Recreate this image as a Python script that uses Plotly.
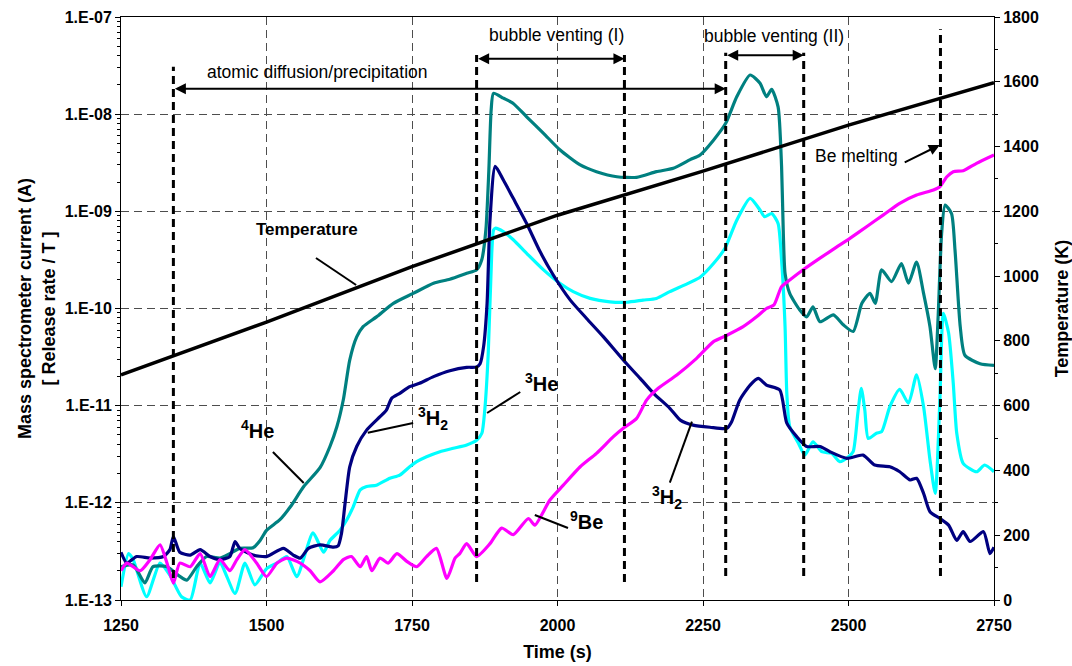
import plotly.graph_objects as go

# ---- release curves (time in s, signal in A) ----
t_he4 = [1250, 1271, 1291, 1305, 1329, 1351, 1363, 1380, 1397, 1420, 1437, 1454, 1477, 1489,
         1500, 1523, 1541, 1564, 1592, 1609, 1621, 1632, 1643, 1655, 1666, 1689, 1718, 1752,
         1787, 1815, 1844, 1861, 1870, 1877, 1882, 1886, 1890, 1907, 1924, 1947, 1976, 2004,
         2039, 2067, 2102, 2136, 2170, 2199, 2228, 2245, 2268, 2289, 2308, 2331, 2348, 2359,
         2368, 2379, 2385, 2388, 2391, 2399, 2416, 2428, 2439, 2451, 2474, 2491, 2508, 2523,
         2537, 2546, 2557, 2574, 2591, 2603, 2617, 2629, 2640, 2649, 2654, 2660, 2666, 2677,
         2683, 2692, 2700, 2726, 2750]
he4 = [2.2e-13, 2.3e-13, 1.5e-13, 2.2e-13, 2.2e-13, 1.75e-13, 1.6e-13, 2.2e-13, 2.8e-13, 2.7e-13,
       3.0e-13, 3.4e-13, 3.45e-13, 4.1e-13, 5.2e-13, 6.7e-13, 9.1e-13, 1.47e-12, 2.3e-12, 3.8e-12,
       6.1e-12, 1.15e-11, 2.95e-11, 5.1e-11, 6.5e-11, 8.2e-11, 1.13e-10, 1.43e-10, 1.82e-10, 2.0e-10,
       2.3e-10, 2.5e-10, 3.2e-10, 6.5e-10, 2.6e-9, 1.1e-8, 1.64e-8, 1.46e-8, 1.29e-8, 9.4e-9,
       6.35e-9, 4.3e-9, 3.0e-9, 2.56e-9, 2.27e-9, 2.24e-9, 2.56e-9, 2.77e-9, 3.4e-9, 3.8e-9,
       5.4e-9, 8.05e-9, 1.51e-8, 2.53e-8, 2.08e-8, 1.51e-8, 1.8e-8, 1.19e-8, 2.9e-9, 5.9e-10,
       2.3e-10, 1.43e-10, 9.7e-11, 8.2e-11, 1.04e-10, 7.3e-11, 8.6e-11, 6.8e-11, 5.8e-11, 1.13e-10,
       1.43e-10, 1.13e-10, 2.5e-10, 1.89e-10, 2.9e-10, 1.82e-10, 3.0e-10, 1.43e-10, 6.5e-11, 2.4e-11,
       8.2e-11, 5.9e-10, 1.16e-9, 9.5e-10, 4.0e-10, 6.5e-11, 3.3e-11, 2.7e-11, 2.6e-11]

t_h2 = [1250, 1260, 1277, 1300, 1323, 1334, 1340, 1351, 1369, 1386, 1403, 1420, 1437, 1446,
        1454, 1477, 1500, 1529, 1546, 1558, 1572, 1592, 1615, 1623, 1629, 1635, 1643, 1655,
        1672, 1695, 1706, 1715, 1729, 1746, 1763, 1787, 1815, 1844, 1861, 1867, 1873, 1879,
        1884, 1893, 1907, 1924, 1947, 1970, 1993, 2022, 2050, 2079, 2113, 2142, 2165, 2193,
        2211, 2233, 2262, 2291, 2299, 2313, 2331, 2345, 2359, 2382, 2394, 2411, 2428, 2451,
        2468, 2497, 2525, 2545, 2571, 2588, 2606, 2617, 2629, 2640, 2657, 2672, 2686, 2697,
        2709, 2732, 2743, 2750]
h2 = [3.1e-13, 2.4e-13, 2.8e-13, 2.7e-13, 2.8e-13, 3.3e-13, 4.5e-13, 3.1e-13, 2.9e-13, 3.3e-13,
      2.8e-13, 2.6e-13, 2.8e-13, 4.0e-13, 3.4e-13, 2.9e-13, 2.8e-13, 3.4e-13, 2.9e-13, 2.7e-13,
      3.4e-13, 3.7e-13, 3.5e-13, 3.6e-13, 4.9e-13, 9.9e-13, 2.35e-12, 3.8e-12, 5.6e-12, 7.7e-12,
      9.0e-12, 1.19e-11, 1.34e-11, 1.57e-11, 1.7e-11, 1.99e-11, 2.29e-11, 2.48e-11, 2.5e-11, 2.7e-11,
      4.05e-11, 1.13e-10, 8.1e-10, 2.9e-9, 2.1e-9, 1.36e-9, 7.5e-10, 3.85e-10, 2.2e-10, 1.22e-10,
      7.9e-11, 5.1e-11, 2.95e-11, 1.91e-11, 1.34e-11, 9.4e-12, 7.1e-12, 6.3e-12, 6.0e-12, 5.85e-12,
      6.8e-12, 1.14e-11, 1.63e-11, 1.91e-11, 1.63e-11, 1.45e-11, 6.6e-12, 4.8e-12, 3.8e-12, 3.8e-12,
      3.36e-12, 2.87e-12, 3.1e-12, 2.45e-12, 2.35e-12, 2.09e-12, 1.72e-12, 1.79e-12, 1.25e-12, 8.1e-13,
      6.9e-13, 5.9e-13, 4.1e-13, 5.05e-13, 4.0e-13, 5.05e-13, 3.0e-13, 3.5e-13]

t_he3 = [1250, 1263, 1271, 1294, 1317, 1334, 1354, 1369, 1386, 1403, 1420, 1446, 1463, 1480,
         1500, 1518, 1535, 1552, 1580, 1598, 1609, 1626, 1638, 1649, 1661, 1672, 1689, 1712,
         1729, 1746, 1758, 1775, 1798, 1821, 1844, 1861, 1870, 1875, 1881, 1887, 1890, 1893,
         1907, 1924, 1947, 1976, 2004, 2027, 2056, 2090, 2119, 2147, 2170, 2193, 2245, 2268,
         2288, 2308, 2331, 2348, 2356, 2368, 2379, 2385, 2391, 2394, 2399, 2414, 2425, 2439,
         2454, 2471, 2485, 2500, 2508, 2516, 2522, 2528, 2534, 2548, 2557, 2571, 2588, 2603,
         2617, 2629, 2640, 2649, 2657, 2663, 2672, 2680, 2686, 2697, 2720, 2734, 2750]
he3 = [1.37e-13, 3.0e-13, 2.6e-13, 1.08e-13, 2.4e-13, 1.8e-13, 1.08e-13, 1.0e-13, 2.4e-13, 1.5e-13,
       2.4e-13, 1.17e-13, 2.4e-13, 1.43e-13, 2.1e-13, 2.4e-13, 2.8e-13, 1.74e-13, 4.9e-13, 3.1e-13,
       4.1e-13, 5.2e-13, 6.7e-13, 9.1e-13, 1.36e-12, 1.47e-12, 1.52e-12, 1.79e-12, 1.93e-12, 2.35e-12,
       2.65e-12, 2.98e-12, 3.36e-12, 3.64e-12, 3.94e-12, 4.4e-12, 5.2e-12, 9.0e-12, 3.46e-11, 3.7e-10,
       6.4e-10, 6.7e-10, 6.2e-10, 5.1e-10, 3.7e-10, 2.5e-10, 1.82e-10, 1.49e-10, 1.27e-10, 1.17e-10,
       1.16e-10, 1.22e-10, 1.27e-10, 1.49e-10, 2.1e-10, 2.9e-10, 4.2e-10, 8.1e-10, 1.36e-9, 1.03e-9,
       8.8e-10, 9.5e-10, 7.5e-10, 3.15e-10, 6.5e-11, 1.34e-11, 6.1e-12, 4.1e-12, 3.1e-12, 4.25e-12,
       3.36e-12, 3.23e-12, 2.65e-12, 2.98e-12, 3.36e-12, 8.3e-12, 1.51e-11, 9.0e-12, 4.6e-12, 5.2e-12,
       5.4e-12, 9.75e-12, 1.47e-11, 1.06e-11, 2.07e-11, 9.75e-12, 2.76e-12, 1.25e-12, 1.14e-11, 8.9e-11,
       5.6e-11, 1.7e-11, 5.2e-12, 2.55e-12, 2.09e-12, 2.45e-12, 2.09e-12]

t_be9 = [1250, 1260, 1283, 1300, 1317, 1329, 1340, 1351, 1369, 1386, 1403, 1420, 1437, 1449,
         1463, 1483, 1500, 1518, 1535, 1558, 1575, 1592, 1615, 1632, 1646, 1661, 1672, 1681,
         1695, 1709, 1724, 1741, 1758, 1775, 1792, 1810, 1824, 1832, 1844, 1861, 1884, 1904,
         1924, 1950, 1961, 1987, 2010, 2039, 2067, 2096, 2113, 2136, 2153, 2173, 2205, 2239,
         2268, 2291, 2319, 2342, 2359, 2372, 2385, 2399, 2422, 2451, 2480, 2503, 2531, 2560,
         2588, 2617, 2646, 2657, 2669, 2680, 2697, 2720, 2750]
be9 = [2.0e-13, 2.4e-13, 2.0e-13, 2.6e-13, 3.7e-13, 2.4e-13, 1.49e-13, 2.4e-13, 2.2e-13, 3.0e-13,
       1.74e-13, 2.6e-13, 2.0e-13, 2.6e-13, 3.3e-13, 2.4e-13, 1.74e-13, 2.4e-13, 2.7e-13, 2.4e-13,
       2.0e-13, 1.54e-13, 2.0e-13, 2.6e-13, 2.8e-13, 2.2e-13, 2.8e-13, 2.0e-13, 2.7e-13, 2.4e-13,
       3.0e-13, 2.5e-13, 2.2e-13, 2.8e-13, 3.4e-13, 1.67e-13, 2.7e-13, 3.0e-13, 3.8e-13, 2.8e-13,
       3.8e-13, 5.5e-13, 4.7e-13, 6.9e-13, 5.9e-13, 1.07e-12, 1.52e-12, 2.35e-12, 3.23e-12, 4.8e-12,
       5.85e-12, 7.4e-12, 1.14e-11, 1.51e-11, 2.07e-11, 3.07e-11, 4.56e-11, 5.3e-11, 6.5e-11, 8.2e-11,
       1.0e-10, 1.09e-10, 1.68e-10, 1.96e-10, 2.5e-10, 3.3e-10, 4.3e-10, 5.3e-10, 6.95e-10, 9.2e-10,
       1.21e-9, 1.47e-9, 1.66e-9, 1.79e-9, 2.27e-9, 2.56e-9, 2.62e-9, 3.12e-9, 3.8e-9]

# ---- sample temperature ramp (K) ----
t_temp = [1250, 1500, 1750, 2000, 2250, 2500, 2750]
temp_k = [695, 858, 1029, 1188, 1324, 1466, 1597]

# ---- axis ticks ----
x_ticks = [1250, 1500, 1750, 2000, 2250, 2500, 2750]
y_ticks = [1e-13, 1e-12, 1e-11, 1e-10, 1e-9, 1e-8, 1e-7]
y_ticktext = ["1.E-13", "1.E-12", "1.E-11", "1.E-10", "1.E-09", "1.E-08", "1.E-07"]
y_minor = [m * d for d in y_ticks[:-1] for m in range(2, 10)]

# ---- event markers (s) ----
t_events = [1340, 1861, 2115, 2289, 2423, 2658]

FONT = "Liberation Sans, Arial, sans-serif"
TEAL, NAVY, CYAN, MAGENTA = "#008080", "#000080", "#00FFFF", "#FF00FF"

fig = go.Figure()
for tx, vy, col in [(t_he3, he3, CYAN), (t_he4, he4, TEAL), (t_h2, h2, NAVY), (t_be9, be9, MAGENTA)]:
    fig.add_trace(go.Scatter(x=tx, y=vy, mode="lines",
                             line=dict(color=col, width=3.2, shape="spline", smoothing=0.6),
                             yaxis="y", hoverinfo="x+y"))
fig.add_trace(go.Scatter(x=t_temp, y=temp_k, mode="lines", line=dict(color="black", width=3.5),
                         yaxis="y2"))

grid = dict(showgrid=True, gridcolor="#4d4d4d", gridwidth=1, griddash="8px,5px")
tickfont = dict(family=FONT, size=16, color="black", weight="bold")
titlefont = dict(family=FONT, size=18, color="black", weight="bold")

fig.update_layout(
    width=1072, height=666,
    margin=dict(l=121, r=78, t=17, b=66, autoexpand=False),
    paper_bgcolor="white", plot_bgcolor="white",
    showlegend=False,
    font=dict(family=FONT, color="black"),
    xaxis=dict(range=[1250, 2750], tickmode="array", tickvals=x_ticks, ticks="outside",
               ticklen=5, tickcolor="black", showline=True, linecolor="black", linewidth=1,
               mirror=True, zeroline=False, tickfont=tickfont, ticklabelstandoff=6,
               automargin=False,
               title=dict(text="Time (s)", font=titlefont, standoff=12), **grid),
    yaxis=dict(type="log", range=[-13, -7], tickmode="array", tickvals=y_ticks,
               ticktext=y_ticktext, ticks="outside", ticklen=5, tickcolor="black",
               showline=True, linecolor="black", linewidth=1, zeroline=False,
               tickfont=tickfont, automargin=False,
               minor=dict(tickmode="array", tickvals=y_minor, ticks="outside", ticklen=3,
                          tickcolor="black", showgrid=False),
               title=dict(text="Mass spectrometer current (A)<br>[ Release rate / T ]",
                          font=titlefont, standoff=4), **grid),
    yaxis2=dict(overlaying="y", side="right", range=[0, 1800], tickmode="linear", tick0=0,
                dtick=200, ticks="outside", ticklen=5, tickcolor="black", showline=True,
                linecolor="black", linewidth=1, showgrid=False, zeroline=False,
                tickfont=tickfont, automargin=False,
                minor=dict(dtick=100, ticks="outside", ticklen=3, tickcolor="black", showgrid=False),
                title=dict(text="Temperature (K)", font=titlefont, standoff=17)),
)

# vertical event lines (x in s, extent on the temperature scale)
event_spans = [(67.9, 1646.5), (55.6, 1682.7), (55.6, 1682.7), (74.1, 1689.8), (74.1, 1689.8), (74.1, 1762)]
for tx, (lo, hi) in zip(t_events, event_spans):
    fig.add_shape(type="line", xref="x", yref="y2", x0=tx, x1=tx, y0=lo, y1=hi,
                  line=dict(color="black", width=3, dash="8px,5px"))


def span_arrow(t0, t1, level):
    fig.add_annotation(x=t1, y=level, ax=t0, ay=level, xref="x", yref="y2", axref="x", ayref="y2",
                       text="", showarrow=True, arrowhead=2, startarrowhead=2,
                       arrowside="end+start", arrowsize=1.1, startarrowsize=1.1,
                       arrowwidth=2, arrowcolor="black", standoff=0, startstandoff=0)


span_arrow(t_events[0], t_events[3], 1578.3)
span_arrow(t_events[1], t_events[2], 1671.3)
span_arrow(t_events[3], t_events[4], 1681.8)
# Be melting pointer
fig.add_annotation(x=2657, y=1404.8, ax=2594, ay=1349.2, xref="x", yref="y2", axref="x", ayref="y2",
                   text="", showarrow=True, arrowhead=2, arrowsize=1.1, arrowwidth=2,
                   arrowcolor="black", standoff=0)


def label(text, tx, level, bold=False, size=17):
    fig.add_annotation(x=tx, y=level, xref="x", yref="y2", text=text, showarrow=False,
                       xanchor="center", yanchor="middle",
                       font=dict(family=FONT, size=size, color="black",
                                 weight="bold" if bold else "normal"))


label("atomic diffusion/precipitation", 1588, 1630.2, size=17.5)
label("bubble venting (I)", 1998, 1744.4, size=17.5)
label("bubble venting (II)", 2372, 1741.3, size=17.5)
label("Be melting", 2513, 1370.8, size=17.5)
label("Temperature", 1570, 1142.4, bold=True)
label("<sup>4</sup>He", 1485, 524.9, bold=True, size=20)
label("<sup>3</sup>H<sub>2</sub>", 1786, 561.9, bold=True, size=20)
label("<sup>3</sup>He", 1972, 670, bold=True, size=20)
label("<sup>9</sup>Be", 2049, 247, bold=True, size=20)
label("<sup>3</sup>H<sub>2</sub>", 2188, 318, bold=True, size=20)

# leader lines from labels to curves
leaders = [((1585, 1055.9), (1654, 972.6)),
           ((1511, 457.0), (1564, 361.2)),
           ((1674, 516.5), (1752, 546.5)),
           ((1879, 577.4), (1936, 642.2)),
           ((1961, 262.4), (2018, 222.3)),
           ((2193, 362.2), (2231, 550.5))]
for (xa, ya), (xb, yb) in leaders:
    fig.add_shape(type="line", xref="x", yref="y2", x0=xa, y0=ya, x1=xb, y1=yb,
                  line=dict(color="black", width=2))

fig.write_html("out.html")
